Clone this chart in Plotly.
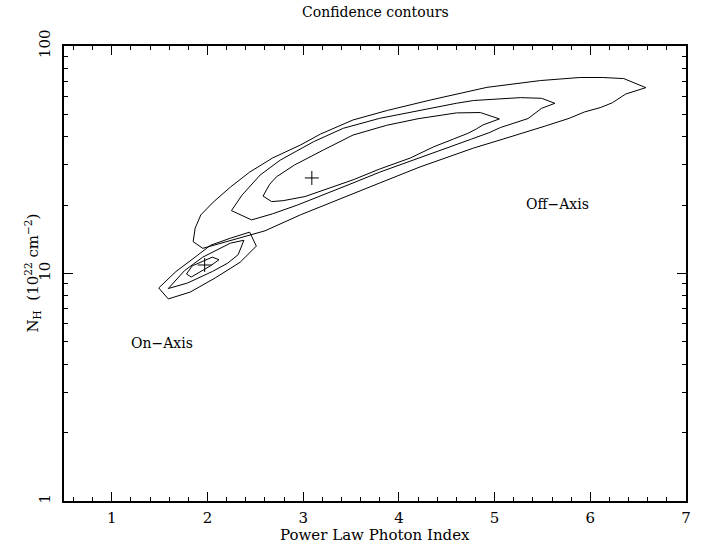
import math
import plotly.graph_objects as go

# ---- data ----
# Off-axis confidence contours (photon index, NH in 1e22 cm^-2)
off_inner_x = [2.58, 2.65, 2.72, 2.91, 3.21, 3.52, 3.87, 4.20, 4.60, 4.85, 5.05, 4.88, 4.81, 4.72,
               4.57, 4.36, 4.12, 3.80, 3.52, 3.21, 3.02, 2.79, 2.67]
off_inner_y = [21.9, 24.7, 26.6, 30.0, 34.9, 40.6, 44.8, 47.9, 50.8, 51.0, 47.8, 45.0, 43.2, 41.3,
               39.0, 36.0, 32.2, 28.8, 25.8, 23.3, 21.8, 20.9, 20.7]

off_mid_x = [2.25, 2.36, 2.55, 2.76, 3.11, 3.42, 3.80, 4.22, 4.60, 4.78, 5.27, 5.49, 5.63, 5.49,
             5.44, 5.35, 5.06, 4.95, 4.76, 4.53, 4.22, 3.80, 3.52, 3.21, 2.94, 2.68, 2.46]
off_mid_y = [18.9, 22.1, 27.1, 31.5, 38.0, 43.5, 48.1, 52.3, 56.0, 57.6, 59.3, 58.9, 56.0, 53.2,
             51.3, 48.0, 43.8, 41.7, 39.0, 36.0, 32.2, 27.9, 25.0, 22.1, 20.0, 18.3, 17.2]

off_outer_x = [1.95, 1.85, 1.87, 1.93, 2.06, 2.24, 2.44, 2.68, 2.97, 3.18, 3.52, 3.88, 4.33, 4.92,
               5.48, 5.89, 6.13, 6.35, 6.58, 6.37, 6.23, 6.11, 5.94, 5.78, 5.53, 5.32, 5.09, 4.78,
               4.43, 4.22, 3.80, 3.39, 2.97, 2.60, 2.24]
off_outer_y = [12.9, 13.8, 15.8, 18.1, 20.6, 24.0, 27.9, 32.2, 36.7, 41.0, 47.3, 52.1, 57.9, 65.8,
               70.5, 72.7, 72.7, 71.9, 65.6, 61.5, 56.3, 53.7, 51.3, 48.1, 44.5, 41.9, 39.0, 35.6,
               31.5, 29.4, 25.0, 21.3, 18.1, 15.4, 13.9]

# On-axis confidence contours
on_inner_x = [1.78, 1.84, 2.05, 2.12, 2.03, 1.83]
on_inner_y = [9.95, 10.8, 11.8, 11.5, 10.8, 9.65]

on_mid_x = [1.59, 1.76, 1.95, 2.24, 2.38, 2.32, 2.21, 2.05, 1.79]
on_mid_y = [8.59, 10.3, 11.8, 13.6, 14.0, 12.1, 11.1, 10.2, 9.08]

on_outer_x = [1.49, 1.67, 1.87, 2.03, 2.24, 2.44, 2.51, 2.34, 2.08, 1.82, 1.59]
on_outer_y = [8.64, 10.2, 11.8, 13.3, 14.3, 15.2, 13.2, 11.2, 9.56, 8.29, 7.73]

# best-fit positions
best_x = [3.09, 1.97]
best_y = [26.3, 10.9]

# labels
label_text = ["On\u2212Axis", "Off\u2212Axis"]
label_x = [1.52, 5.66]
label_y = [4.95, 20.2]

x_ticks = [1, 2, 3, 4, 5, 6, 7]
y_ticks = [1, 10, 100]
y_minor = [2, 3, 4, 5, 6, 7, 8, 9, 20, 30, 40, 50, 60, 70, 80, 90]

FONT = "DejaVu Serif"

fig = go.Figure()

contours = [
    (off_inner_x, off_inner_y), (off_mid_x, off_mid_y), (off_outer_x, off_outer_y),
    (on_inner_x, on_inner_y), (on_mid_x, on_mid_y), (on_outer_x, on_outer_y),
]
for cx, cy in contours:
    fig.add_trace(go.Scatter(x=cx + cx[:1], y=cy + cy[:1], mode="lines",
                             line=dict(color="black", width=1), hoverinfo="skip",
                             showlegend=False))

fig.add_trace(go.Scatter(x=best_x, y=best_y, mode="markers",
                         marker=dict(symbol="cross-thin", size=10,
                                     line=dict(color="black", width=1)),
                         showlegend=False))

for t, lx, ly in zip(label_text, label_x, label_y):
    fig.add_annotation(x=lx, y=math.log10(ly), yref="y", xref="x", text=t, showarrow=False,
                       xanchor="center", yanchor="middle",
                       font=dict(family=FONT, size=14, color="black"))

axis_common = dict(showgrid=False, zeroline=False, showline=True, linecolor="black",
                   linewidth=1.5, mirror="allticks", ticks="inside", tickcolor="black",
                   tickwidth=1, ticklen=9,
                   tickfont=dict(family=FONT, size=15, color="black"))

fig.update_xaxes(range=[0.5, 7], tickvals=x_ticks, ticktext=[str(v) for v in x_ticks],
                 minor=dict(ticks="inside", ticklen=4, dtick=0.2, tickcolor="black",
                            tickwidth=1, showgrid=False),
                 ticklabelstandoff=2, **axis_common)
fig.update_yaxes(type="log", range=[0, 2], tickvals=y_ticks, ticktext=[str(v) for v in y_ticks],
                 tickangle=-90,
                 minor=dict(ticks="inside", ticklen=4, tickvals=y_minor, tickcolor="black",
                            tickwidth=1, showgrid=False),
                 ticklabelstandoff=6, **axis_common)

fig.add_annotation(text="Confidence contours", xref="paper", yref="paper", x=0.5, y=1.0747,
                   xanchor="center", yanchor="middle",
                   showarrow=False, font=dict(family=FONT, size=14, color="black"))
fig.add_annotation(text="Power Law Photon Index", xref="paper", yref="paper", x=0.5, y=-0.0747,
                   xanchor="center", yanchor="middle",
                   showarrow=False, font=dict(family=FONT, size=15, color="black"))
fig.add_annotation(text="N<sub>H</sub>  (10<sup>22</sup> cm<sup>\u22122</sup>)",
                   xref="paper", yref="paper", x=-0.0514, y=0.5, textangle=-90,
                   xanchor="center", yanchor="middle",
                   showarrow=False, font=dict(family=FONT, size=15, color="black"))

fig.update_layout(width=705, height=545, margin=dict(l=64, r=19, t=46, b=44),
                  paper_bgcolor="white", plot_bgcolor="white")

# remove the default page margin so the figure fills the window exactly
fig.write_html("out.html", config={"displayModeBar": False},
               post_script="document.body.style.margin='0';")
